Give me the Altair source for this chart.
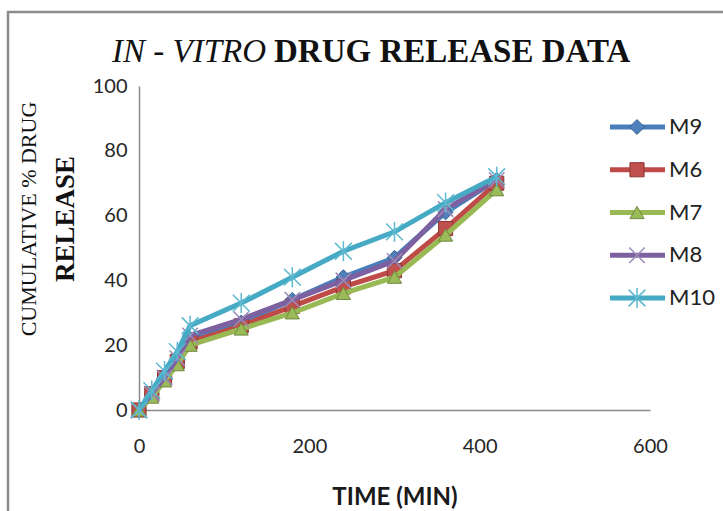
import altair as alt
import pandas as pd

# Sampling times (min) and cumulative % drug released per formulation
time_min = [0, 15, 30, 45, 60, 120, 180, 240, 300, 360, 420]
m9 = [0, 5, 10, 15, 22, 27, 34, 41, 47, 61, 71]
m6 = [0, 5, 10, 15, 21, 26, 32, 38, 43, 56, 70]
m7 = [0, 4, 9, 14, 20, 25, 30, 36, 41, 54, 68]
m8 = [0, 5, 10, 16, 23, 28, 34, 40, 46, 62, 71]
m10 = [0, 6, 12, 18, 26, 33, 41, 49, 55, 64, 72]

series_names = ["M9", "M6", "M7", "M8", "M10"]
series_values = [m9, m6, m7, m8, m10]
x_ticks = [0, 200, 400, 600]
y_ticks = [0, 20, 40, 60, 80, 100]

rows = []
for name, vals in zip(series_names, series_values):
    for t, v in zip(time_min, vals):
        rows.append({"series": name, "time": t, "release": v})
df = pd.DataFrame(rows)

# Marker paths in the unit square [-1, 1]
X_PATH = "M-1,-1L1,1M-1,1L1,-1"
STAR_PATH = "M-1,-1L1,1M-1,1L1,-1M0,-1.2L0,1.2"

style = {
    "M9": dict(line="#4A7EBB", shape="diamond", fill="#4F81BD", stroke="#385D8A", size=220, sw=1),
    "M6": dict(line="#BE4B48", shape="square", fill="#C0504D", stroke="#8C3836", size=200, sw=1),
    "M7": dict(line="#98B954", shape="triangle-up", fill="#9BBB59", stroke="#71893F", size=200, sw=1),
    "M8": dict(line="#7D60A0", shape=X_PATH, fill=None, stroke="#9C8BB8", size=240, sw=1.5),
    "M10": dict(line="#46AAC5", shape=STAR_PATH, fill=None, stroke="#5DB8D0", size=280, sw=1.5),
}

FONT_SANS = "Lato"
FONT_SERIF = "Liberation Serif"
LINE_W = 5

x_enc = alt.X(
    "time:Q",
    scale=alt.Scale(domain=[0, 600], nice=False),
    axis=alt.Axis(
        values=x_ticks, title="TIME (MIN)", grid=False, ticks=False,
        domainColor="#8a8a8a", domainWidth=1.5, labelFlush=False,
        labelFont=FONT_SANS, labelFontSize=20, labelColor="#262626", labelPadding=26,
        titleFont=FONT_SANS, titleFontSize=24, titleFontWeight="bold", titleColor="#1a1a1a",
        titleX=255.5, titleY=87, titleBaseline="middle", titleAnchor="middle",
    ),
)
y_enc = alt.Y(
    "release:Q",
    scale=alt.Scale(domain=[0, 100], nice=False),
    axis=alt.Axis(
        values=y_ticks, title="", grid=False, ticks=False,
        domainColor="#8a8a8a", domainWidth=1.5, labelFlush=False,
        labelFont=FONT_SANS, labelFontSize=20, labelColor="#262626", labelPadding=12,
    ),
)


def point_kw(st):
    kw = dict(shape=st["shape"], size=st["size"], stroke=st["stroke"],
              strokeWidth=st["sw"], opacity=1)
    if st["fill"]:
        kw.update(fill=st["fill"], fillOpacity=1)
    else:
        kw.update(fillOpacity=0)
    return kw


series_layers = []
for name in series_names:
    st = style[name]
    base = alt.Chart(df).transform_filter(alt.datum.series == name)
    series_layers.append(
        base.mark_line(color=st["line"], strokeWidth=LINE_W).encode(x=x_enc, y=y_enc)
    )
    series_layers.append(base.mark_point(**point_kw(st)).encode(x=x_enc, y=y_enc))
data_group = alt.layer(*series_layers)

# Legend built from the series list on its own point scale
legend_df = pd.DataFrame({"series": series_names})
leg_y = alt.Y("series:N", scale=alt.Scale(type="point", domain=series_names,
                                          range=[41, 212], padding=0), axis=None)
leg_rule = alt.Chart(legend_df).mark_rule(strokeWidth=LINE_W).encode(
    x=alt.value(471), x2=alt.value(526), y=leg_y,
    color=alt.Color("series:N", scale=alt.Scale(domain=series_names,
                    range=[style[n]["line"] for n in series_names]), legend=None),
)
leg_points = []
for name in series_names:
    leg_points.append(
        alt.Chart(legend_df).transform_filter(alt.datum.series == name)
        .mark_point(**point_kw(style[name])).encode(x=alt.value(498), y=leg_y)
    )
leg_text = alt.Chart(legend_df).mark_text(
    align="left", baseline="middle", font=FONT_SANS, fontSize=22, color="#222222"
).encode(x=alt.value(530), y=leg_y, text="series:N")
legend_group = alt.layer(leg_rule, *leg_points, leg_text)

# Chart title in two styles and the two-line value-axis caption
title_a = alt.Chart(pd.DataFrame({"t": ["IN - VITRO"]})).mark_text(
    align="right", baseline="middle", font=FONT_SERIF, fontSize=33,
    fontStyle="italic", color="#111111"
).encode(x=alt.value(127), y=alt.value(-34), text="t:N")
title_b = alt.Chart(pd.DataFrame({"t": ["DRUG RELEASE DATA"]})).mark_text(
    align="left", baseline="middle", font=FONT_SERIF, fontSize=33,
    fontWeight="bold", color="#111111"
).encode(x=alt.value(135), y=alt.value(-34), text="t:N")
ytitle_a = alt.Chart(pd.DataFrame({"t": ["CUMULATIVE % DRUG"]})).mark_text(
    align="center", baseline="middle", angle=270, font=FONT_SERIF, fontSize=22,
    color="#111111"
).encode(x=alt.value(-110), y=alt.value(133), text="t:N")
ytitle_b = alt.Chart(pd.DataFrame({"t": ["RELEASE"]})).mark_text(
    align="center", baseline="middle", angle=270, font=FONT_SERIF, fontSize=27,
    fontWeight="bold", color="#111111"
).encode(x=alt.value(-73), y=alt.value(133), text="t:N")

frame = alt.Chart(pd.DataFrame({"f": [0]})).mark_rect(
    fillOpacity=0, stroke="#8c8c8c", strokeWidth=2.5
).encode(x=alt.value(-131), y=alt.value(-74), x2=alt.value(600), y2=alt.value(440))

chart = (
    alt.layer(frame, title_a, title_b, ytitle_a, ytitle_b, data_group, legend_group)
    .resolve_scale(y="independent", color="independent")
    .properties(
        width=511, height=324,
        padding={"left": 139, "top": 86, "right": 73, "bottom": 101},
        autosize=alt.AutoSizeParams(type="none"),
        background="white",
    )
    .configure_view(stroke="transparent")
)

chart.save("out.html", embed_options={"renderer": "svg", "actions": False})
